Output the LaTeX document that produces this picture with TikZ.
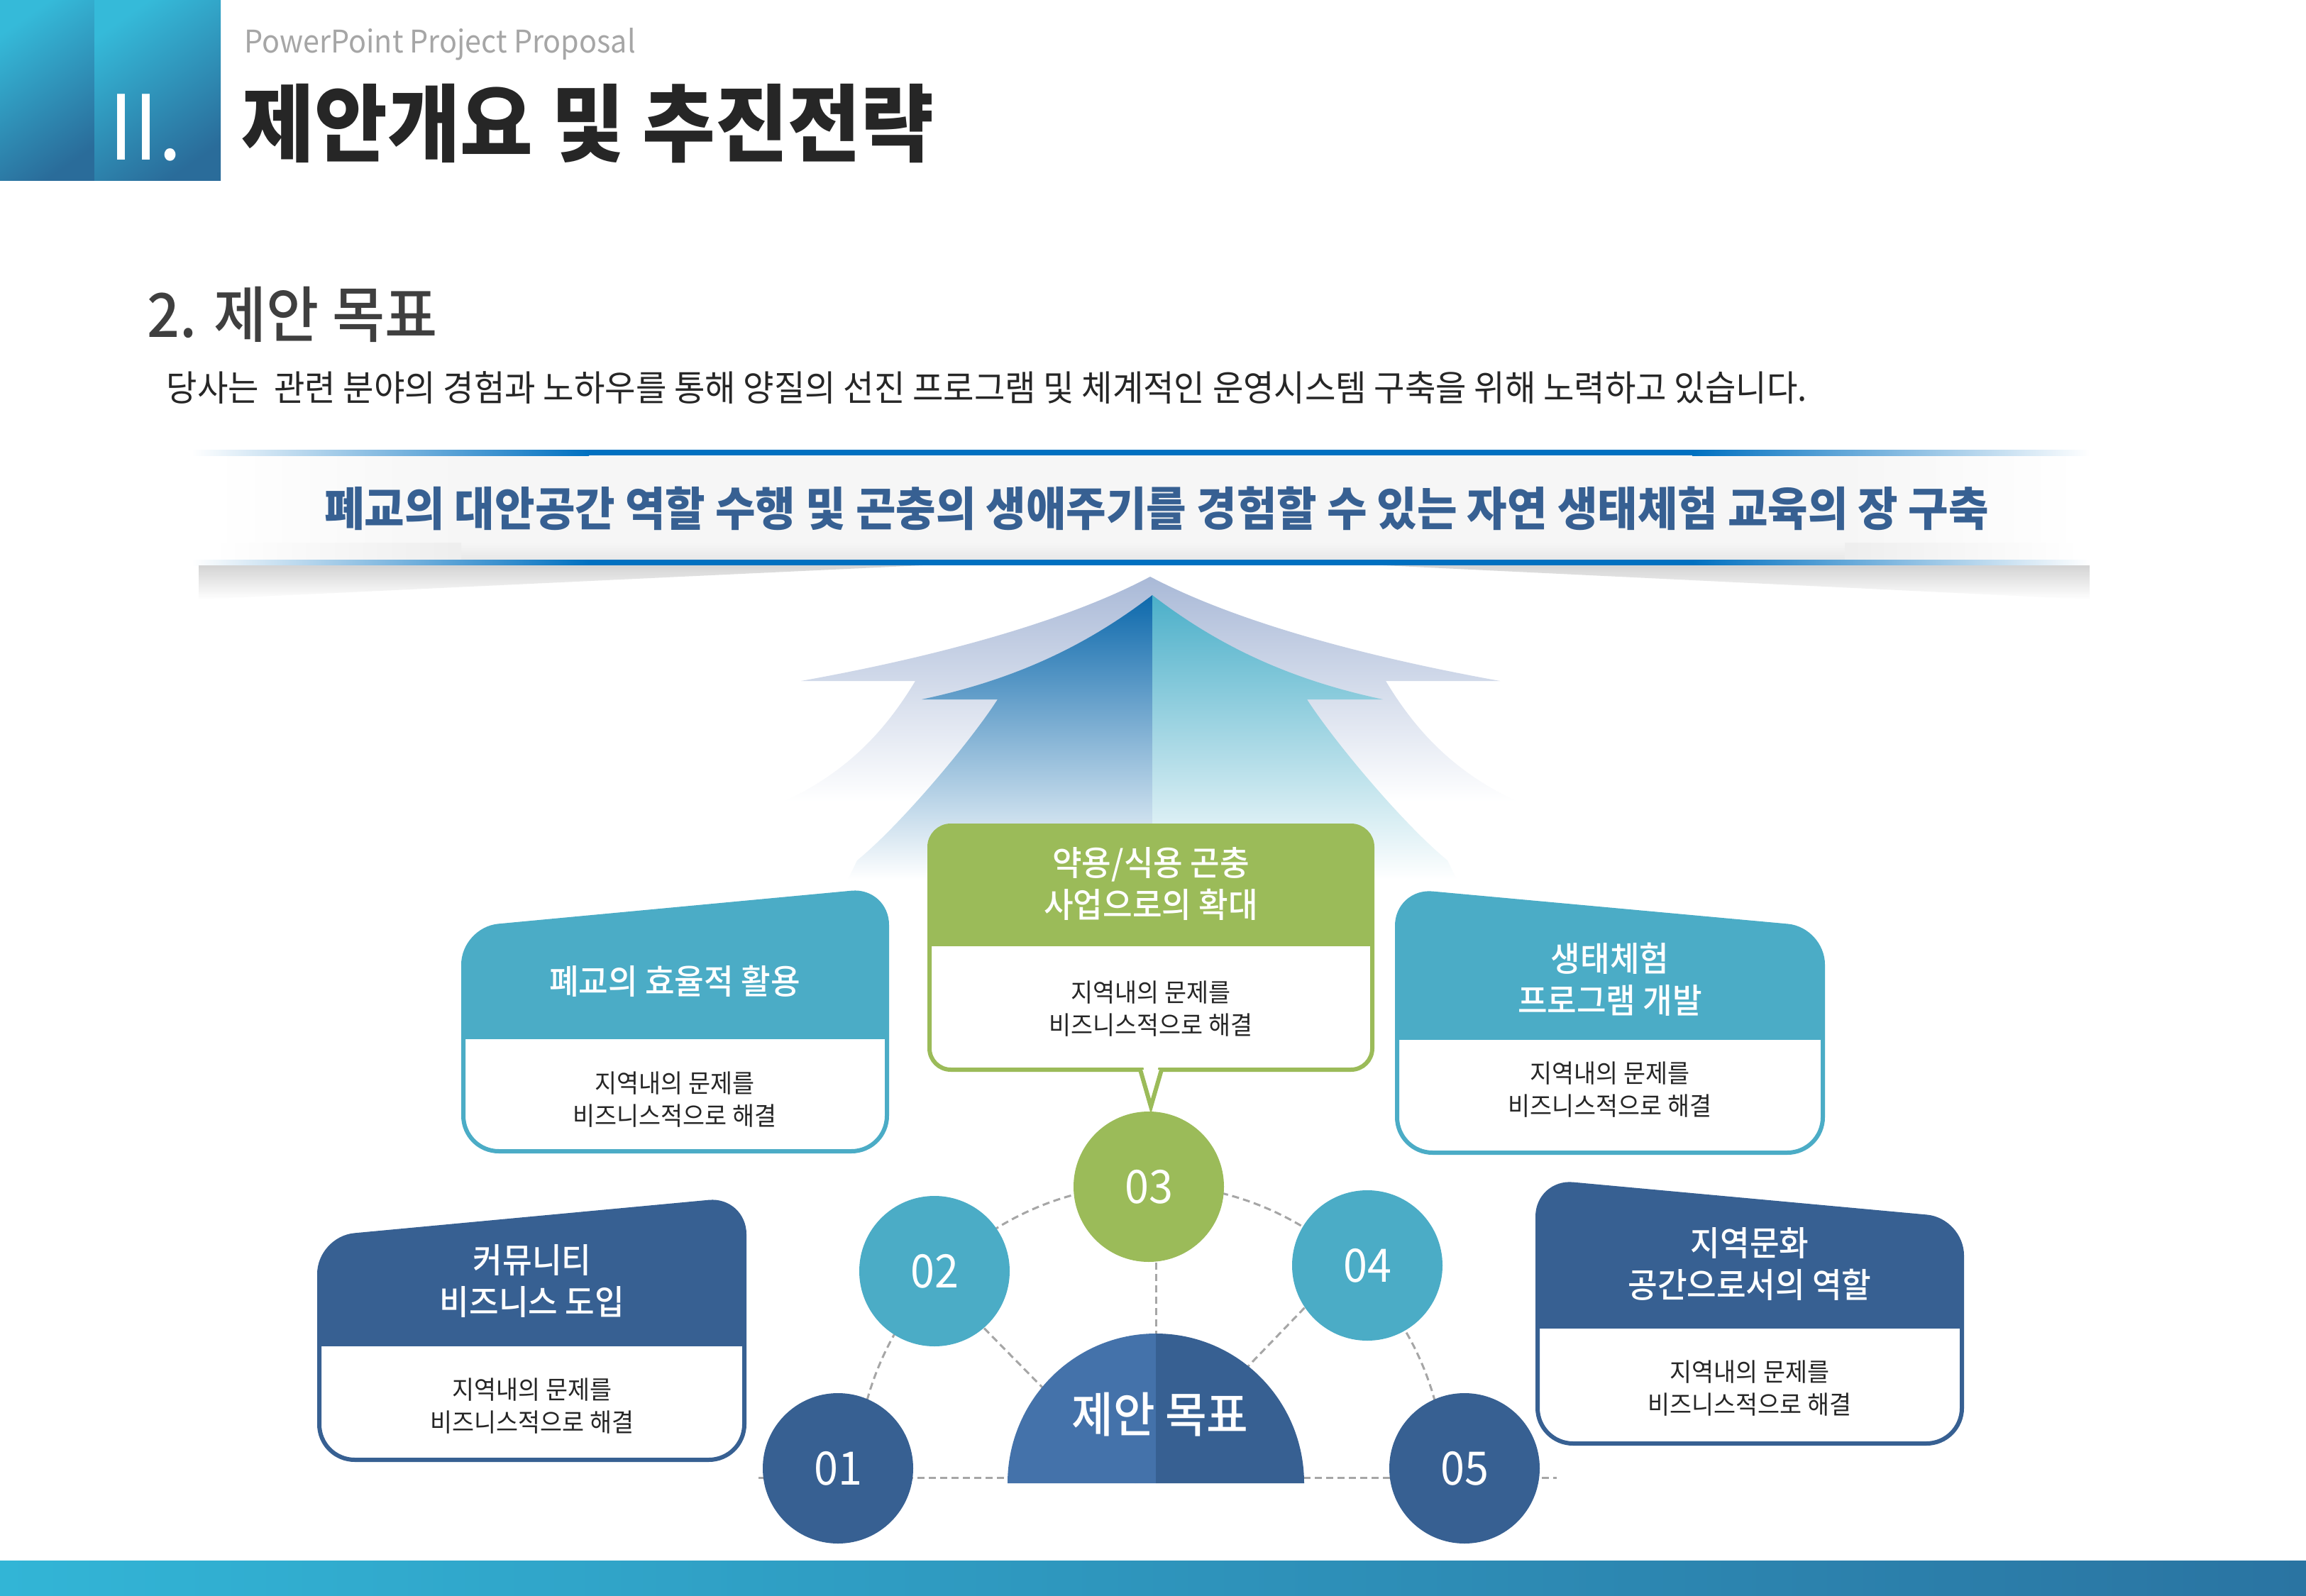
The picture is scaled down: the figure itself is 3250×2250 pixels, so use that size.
\documentclass[tikz,border=0pt]{standalone}
\usepackage{fontspec}
\setmainfont[FakeStretch=0.94]{Noto Sans CJK KR}
\newfontfamily\medfont[FakeStretch=0.94]{Noto Sans CJK KR Medium}
\usepackage{tikz}

\definecolor{tealc}{HTML}{4BACC6}
\definecolor{navyc}{HTML}{376092}
\definecolor{greenc}{HTML}{9BBB59}
\definecolor{domel}{HTML}{4472AA}
\definecolor{ink}{HTML}{262626}
\definecolor{subink}{HTML}{3F3F3F}
\definecolor{greyink}{HTML}{A6A6A6}
\definecolor{dashc}{HTML}{A6A6A6}
\definecolor{lineblue}{HTML}{0070C0}
\definecolor{bandc}{HTML}{F6F6F6}
\definecolor{bandlow}{HTML}{E8E8E8}
\definecolor{arrowout}{HTML}{A9B9D7}
\definecolor{arrowl}{HTML}{0D69AC}
\definecolor{arrowr}{HTML}{4BAFC9}
\definecolor{hdlt}{HTML}{35BAD9}
\definecolor{hddk}{HTML}{2A6C9A}
\definecolor{barlt}{HTML}{32B5D6}
\definecolor{bardk}{HTML}{2A74A2}

\pgfdeclarelayer{paper}
\pgfdeclarelayer{guide}
\pgfsetlayers{paper,guide,main}

\begin{document}
\begin{tikzpicture}[
  x=0.1mm, y=-0.1mm,
  txt/.style={anchor=west, inner sep=0pt},
  hdr/.style={text=white, align=center, inner sep=0pt,
              font=\fontsize{13.7pt}{16.8pt}\selectfont\medfont},
  bod/.style={text=ink, align=center, inner sep=0pt,
              font=\fontsize{10.2pt}{12.9pt}\selectfont},
  num/.style={circle, minimum size=21.2mm, inner sep=0pt, text=white,
              font=\fontsize{18.5pt}{19pt}\selectfont},
  rim/.style={line width=0.6mm, fill=white, rounded corners=5mm},
  guideln/.style={draw=dashc, line width=0.3mm, dash pattern=on 1mm off 0.6mm}
]

\begin{pgfonlayer}{paper}
  \fill[white] (0,0) rectangle (3250,2250);
\end{pgfonlayer}
\useasboundingbox (0,0) rectangle (3250,2250);

% ---------- page header ----------
\shade[top color=hdlt, bottom color=hddk, shading angle=35] (0,0) rectangle (133,255);
\shade[top color=hdlt, bottom color=hddk, shading angle=35] (133,0) rectangle (311,255);
\node[text=white, inner sep=0pt, font=\fontsize{36pt}{36pt}\selectfont] (roman) at (205,180) {II.};
\node[txt, text=greyink, font=\fontsize{12.5pt}{13pt}\selectfont] (eng) at (344,62) {PowerPoint Project Proposal};
\node[txt, text=ink, font=\fontsize{33.8pt}{35pt}\selectfont\bfseries] (title) at (340,174) {제안개요 및 추진전략};

\node[txt, text=subink, font=\fontsize{24.4pt}{25pt}\selectfont\medfont] (sect) at (207,443) {2. 제안 목표};
\node[txt, text=ink, font=\fontsize{14.3pt}{15pt}\selectfont] (lead) at (234,547)
  {당사는\ \ 관련 분야의 경험과 노하우를 통해 양질의 선진 프로그램 및 체계적인 운영시스템 구축을 위해 노력하고 있습니다.};

% ---------- goal banner ----------
\shade[left color=white, right color=bandc] (300,642) rectangle (650,789);
\fill[bandc] (650,642) rectangle (2600,789);
\shade[left color=bandc, right color=white] (2600,642) rectangle (2930,789);
\shade[top color=bandc, bottom color=bandlow] (650,765) rectangle (2600,789);
\begin{scope}
  \clip (300,765) rectangle (650,789);
  \shade[left color=white, right color=bandlow!60!bandc] (300,765) rectangle (650,789);
\end{scope}
\shade[left color=bandlow!60!bandc, right color=white] (2600,765) rectangle (2930,789);

\shade[left color=white, right color=lineblue] (270,634) rectangle (830,642);
\fill[lineblue] (830,634) rectangle (2385,642);
\shade[left color=lineblue, right color=white] (2385,634) rectangle (2945,642);
\shade[left color=white, right color=lineblue] (270,789) rectangle (830,797);
\fill[lineblue] (830,789) rectangle (2385,797);
\shade[left color=lineblue, right color=white] (2385,789) rectangle (2945,797);

\shade[top color=black!17, bottom color=white] (280,797) -- (1300,797) -- (280,845) -- cycle;
\shade[top color=black!17, bottom color=white] (2945,797) -- (1950,797) -- (2945,845) -- cycle;

\node[inner sep=0pt, text=navyc, font=\fontsize{18.6pt}{19pt}\selectfont\bfseries] (goal) at (1630,717)
  {폐교의 대안공간 역할 수행 및 곤충의 생애주기를 경험할 수 있는 자연 생태체험 교육의 장 구축};

% ---------- rising arrow ----------
\shade[top color=arrowout, bottom color=white]
  (1621,813) .. controls (1491,882) and (1296,930) .. (1129,960)
  -- (1290,960) .. controls (1245,1035) and (1190,1090) .. (1105,1130)
  -- (2138,1130) .. controls (2053,1090) and (1998,1035) .. (1953,960)
  -- (2114,960) .. controls (1947,930) and (1752,882) .. (1621,813) -- cycle;
\shade[top color=arrowl, bottom color=white]
  (1624,839) .. controls (1528,913) and (1426,959) .. (1299,986)
  -- (1406,986) .. controls (1366,1048) and (1268,1164) .. (1208,1213)
  -- (1195,1240) -- (1624,1240) -- cycle;
\shade[top color=arrowr, bottom color=white]
  (1624,839) .. controls (1720,913) and (1822,959) .. (1949,986)
  -- (1842,986) .. controls (1882,1048) and (1980,1164) .. (2040,1213)
  -- (2053,1240) -- (1624,1240) -- cycle;

% ---------- card: 폐교 ----------
\draw[rim, draw=tealc] (653,1310) -- (1250,1254) -- (1250,1623) -- (653,1623) -- cycle;
\begin{scope}
  \clip[rounded corners=5mm] (653,1310) -- (1250,1254) -- (1250,1623) -- (653,1623) -- cycle;
  \fill[tealc] (640,1240) rectangle (1260,1465);
\end{scope}
\node[hdr] (hA) at (951,1383) {폐교의 효율적 활용};
\node[bod] (bA) at (951,1550) {지역내의 문제를\\비즈니스적으로 해결};

% ---------- card: 생태체험 ----------
\draw[rim, draw=tealc] (1969,1255) -- (2569,1310) -- (2569,1625) -- (1969,1625) -- cycle;
\begin{scope}
  \clip[rounded corners=5mm] (1969,1255) -- (2569,1310) -- (2569,1625) -- (1969,1625) -- cycle;
  \fill[tealc] (1960,1240) rectangle (2580,1466);
\end{scope}
\node[hdr] (hB) at (2269,1381) {생태체험\\프로그램 개발};
\node[bod] (bB) at (2269,1536) {지역내의 문제를\\비즈니스적으로 해결};

% ---------- card: 커뮤니티 ----------
\draw[rim, draw=navyc] (450,1746) -- (1049,1690) -- (1049,2058) -- (450,2058) -- cycle;
\begin{scope}
  \clip[rounded corners=5mm] (450,1746) -- (1049,1690) -- (1049,2058) -- (450,2058) -- cycle;
  \fill[navyc] (440,1680) rectangle (1060,1898);
\end{scope}
\node[hdr] (hC) at (750,1806) {커뮤니티\\비즈니스 도입};
\node[bod] (bC) at (750,1982) {지역내의 문제를\\비즈니스적으로 해결};

% ---------- card: 지역문화 ----------
\draw[rim, draw=navyc] (2167,1665) -- (2765,1720) -- (2765,2035) -- (2167,2035) -- cycle;
\begin{scope}
  \clip[rounded corners=5mm] (2167,1665) -- (2765,1720) -- (2765,2035) -- (2167,2035) -- cycle;
  \fill[navyc] (2160,1650) rectangle (2780,1873);
\end{scope}
\node[hdr] (hD) at (2466,1782) {지역문화\\공간으로서의 역할};
\node[bod] (bD) at (2466,1957) {지역내의 문제를\\비즈니스적으로 해결};

% ---------- callout: 곤충 ----------
\draw[rim, draw=greenc, rounded corners=3mm] (1310,1164) rectangle (1934,1508);
\begin{scope}
  \clip[rounded corners=3mm] (1310,1164) rectangle (1934,1508);
  \fill[greenc] (1300,1150) rectangle (1945,1334);
\end{scope}
\draw[line width=0.6mm, draw=greenc, fill=white] (1607,1508) -- (1622,1560) -- (1637,1508);
\fill[white] (1611,1503) -- (1622,1545) -- (1633,1503) -- cycle;
\node[hdr] (hE) at (1622,1246) {약용/식용 곤충\\사업으로의 확대};
\node[bod] (bE) at (1622,1422) {지역내의 문제를\\비즈니스적으로 해결};

% ---------- goal dome + numbered steps ----------
\coordinate (hub) at (1601,2090);
\coordinate (domeTop) at (1629,1880);
\coordinate (baseL) at (1069,2083);
\coordinate (baseR) at (2194,2083);
\coordinate (arcL) at (1207,2085);

\fill[domel] (1420,2091) arc[start angle=180, end angle=90, x radius=20.9mm, y radius=21.1mm] -- (1629,2091) -- cycle;
\fill[navyc] (1838,2091) arc[start angle=0, end angle=90, x radius=20.9mm, y radius=21.1mm] -- (1629,2091) -- cycle;
\node[text=white, inner sep=0pt, font=\fontsize{19.3pt}{20pt}\selectfont\medfont] (core) at (1635,1994) {제안 목표};

\node[num, fill=navyc]  (c1) at (1181,2070) {01};
\node[num, fill=tealc]  (c2) at (1317,1792) {02};
\node[num, fill=greenc] (c3) at (1619,1673) {03};
\node[num, fill=tealc]  (c4) at (1927,1784) {04};
\node[num, fill=navyc]  (c5) at (2064,2070) {05};

\begin{pgfonlayer}{guide}
  \draw[guideln] (baseL) -- (baseR);
  \draw[guideln] (arcL) arc[start angle=180, end angle=0, radius=41.5mm];
  \draw[guideln] (c2.311) -- (hub);
  \draw[guideln] (c4.214) -- (hub);
  \draw[guideln] (c3.south -| domeTop) -- (domeTop);
\end{pgfonlayer}

% ---------- footer bar ----------
\shade[left color=barlt, right color=bardk] (0,2200) rectangle (3250,2250);

\end{tikzpicture}
\end{document}
